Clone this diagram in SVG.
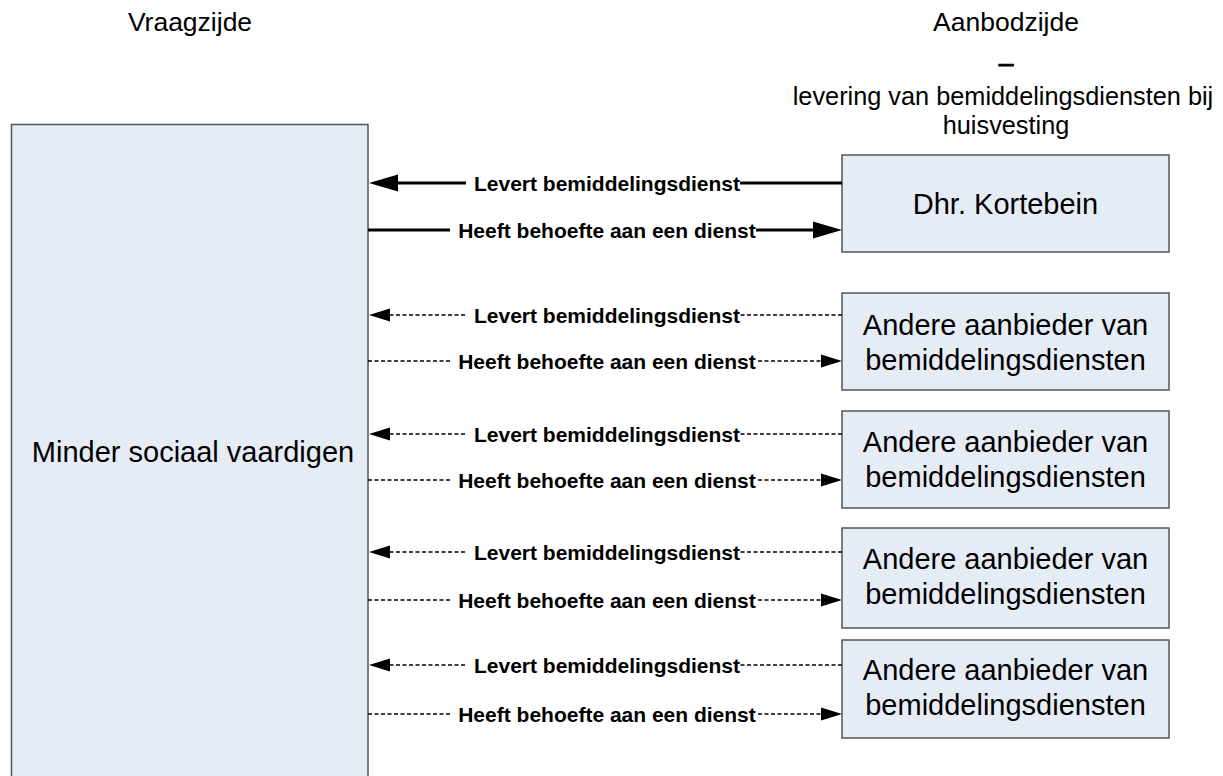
<svg xmlns="http://www.w3.org/2000/svg" width="1223" height="776" viewBox="0 0 1223 776">
  <style>
    .hdr { font-family: "Liberation Sans", Arial, sans-serif; font-size: 26.5px; fill: #000; text-anchor: middle; }
    .sub { font-family: "Liberation Sans", Arial, sans-serif; font-size: 25.3px; fill: #000; text-anchor: middle; }
    .dashmark { stroke: #000; stroke-width: 0.9; }
    .box { fill: #E5ECF6; stroke: #555; stroke-width: 1.5; }
    .big { font-family: "Liberation Sans", Arial, sans-serif; font-size: 29px; fill: #000; text-anchor: middle; }
    .lbl { font-family: "Liberation Sans", Arial, sans-serif; font-size: 21px; font-weight: bold; fill: #000; text-anchor: middle; }
    .solid { fill: none; stroke: #000; stroke-width: 3; }
    .dash { fill: none; stroke: #000; stroke-width: 1.5; stroke-dasharray: 4 2.5; }
    .bg { fill: #fff; }
  </style>
  <defs>
    <marker id="headSolid" viewBox="0 -9 29 18" markerWidth="29" markerHeight="18" refX="0" refY="0" markerUnits="userSpaceOnUse" orient="auto">
      <polygon points="0,-8.5 29,0 0,8.5" fill="#000"/>
    </marker>
    <marker id="headDash" viewBox="0 -7 21 14" markerWidth="21" markerHeight="14" refX="0" refY="0" markerUnits="userSpaceOnUse" orient="auto">
      <polygon points="0,-6.5 21,0 0,6.5" fill="#000"/>
    </marker>
  </defs>

  <!-- column headings -->
  <text class="hdr" x="190" y="31">Vraagzijde</text>
  <text class="hdr" x="1006" y="31">Aanbodzijde</text>
  <text class="hdr dashmark" x="1006" y="72">–</text>
  <text class="sub" x="1003" y="105">levering van bemiddelingsdiensten bij</text>
  <text class="sub" x="1006" y="134">huisvesting</text>

  <!-- demand side -->
  <g id="vraag">
    <rect class="box" x="11.5" y="124.5" width="356.5" height="700"/>
    <text class="big" x="193" y="462">Minder sociaal vaardigen</text>
  </g>

  <!-- supply side -->
  <g id="kortebein">
    <rect class="box" x="842" y="155" width="327" height="97"/>
    <text class="big" x="1005.5" y="214">Dhr. Kortebein</text>
  </g>
  <g id="aanbieder1">
    <rect class="box" x="842" y="293" width="327" height="97"/>
    <text class="big" x="1005.5" y="335">Andere aanbieder van</text>
    <text class="big" x="1005.5" y="370">bemiddelingsdiensten</text>
  </g>
  <g id="aanbieder2">
    <rect class="box" x="842" y="411" width="327" height="97"/>
    <text class="big" x="1005.5" y="452">Andere aanbieder van</text>
    <text class="big" x="1005.5" y="487">bemiddelingsdiensten</text>
  </g>
  <g id="aanbieder3">
    <rect class="box" x="842" y="528" width="327" height="100"/>
    <text class="big" x="1005.5" y="569">Andere aanbieder van</text>
    <text class="big" x="1005.5" y="604">bemiddelingsdiensten</text>
  </g>
  <g id="aanbieder4">
    <rect class="box" x="842" y="640" width="327" height="98"/>
    <text class="big" x="1005.5" y="680">Andere aanbieder van</text>
    <text class="big" x="1005.5" y="715">bemiddelingsdiensten</text>
  </g>

  <!-- connectors -->
  <g id="connectors">
    <!-- Dhr. Kortebein -->
    <path class="solid" d="M842,183 H398" marker-end="url(#headSolid)"/>
    <rect class="bg" x="466" y="171" width="274" height="24"/>
    <text class="lbl" x="607" y="190.5">Levert bemiddelingsdienst</text>
    <path class="solid" d="M368,230 H813" marker-end="url(#headSolid)"/>
    <rect class="bg" x="450" y="218" width="306" height="24"/>
    <text class="lbl" x="607" y="237.5">Heeft behoefte aan een dienst</text>

    <!-- aanbieder 1 -->
    <path class="dash" d="M842,315 H390" marker-end="url(#headDash)"/>
    <rect class="bg" x="466" y="303" width="274" height="24"/>
    <text class="lbl" x="607" y="322.5">Levert bemiddelingsdienst</text>
    <path class="dash" d="M368,361 H821" marker-end="url(#headDash)"/>
    <rect class="bg" x="450" y="349" width="306" height="24"/>
    <text class="lbl" x="607" y="368.5">Heeft behoefte aan een dienst</text>

    <!-- aanbieder 2 -->
    <path class="dash" d="M842,434 H390" marker-end="url(#headDash)"/>
    <rect class="bg" x="466" y="422" width="274" height="24"/>
    <text class="lbl" x="607" y="441.5">Levert bemiddelingsdienst</text>
    <path class="dash" d="M368,480 H821" marker-end="url(#headDash)"/>
    <rect class="bg" x="450" y="468" width="306" height="24"/>
    <text class="lbl" x="607" y="487.5">Heeft behoefte aan een dienst</text>

    <!-- aanbieder 3 -->
    <path class="dash" d="M842,552 H390" marker-end="url(#headDash)"/>
    <rect class="bg" x="466" y="540" width="274" height="24"/>
    <text class="lbl" x="607" y="559.5">Levert bemiddelingsdienst</text>
    <path class="dash" d="M368,600 H821" marker-end="url(#headDash)"/>
    <rect class="bg" x="450" y="588" width="306" height="24"/>
    <text class="lbl" x="607" y="607.5">Heeft behoefte aan een dienst</text>

    <!-- aanbieder 4 -->
    <path class="dash" d="M842,665 H390" marker-end="url(#headDash)"/>
    <rect class="bg" x="466" y="653" width="274" height="24"/>
    <text class="lbl" x="607" y="672.5">Levert bemiddelingsdienst</text>
    <path class="dash" d="M368,714 H821" marker-end="url(#headDash)"/>
    <rect class="bg" x="450" y="702" width="306" height="24"/>
    <text class="lbl" x="607" y="721.5">Heeft behoefte aan een dienst</text>
  </g>
</svg>
